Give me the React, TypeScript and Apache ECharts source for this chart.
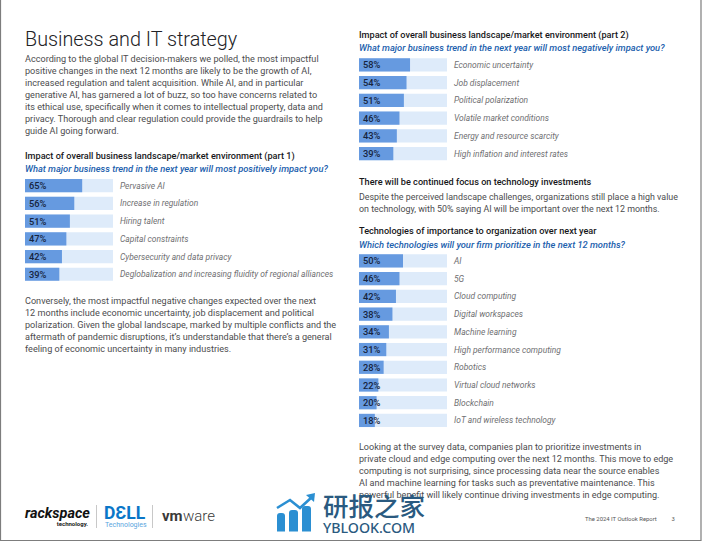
import React, { useEffect, useRef } from "react";
import * as echarts from "echarts";

const part1Categories = ["Pervasive AI", "Increase in regulation", "Hiring talent", "Capital constraints", "Cybersecurity and data privacy", "Deglobalization and increasing fluidity of regional alliances"];
const part1Values = [65, 56, 51, 47, 42, 39];
const part2Categories = ["Economic uncertainty", "Job displacement", "Political polarization", "Volatile market conditions", "Energy and resource scarcity", "High inflation and interest rates"];
const part2Values = [58, 54, 51, 46, 43, 39];
const techCategories = ["AI", "5G", "Cloud computing", "Digital workspaces", "Machine learning", "High performance computing", "Robotics", "Virtual cloud networks", "Blockchain", "IoT and wireless technology"];
const techValues = [50, 46, 42, 38, 34, 31, 28, 22, 20, 18];

const introLines = [
  "According to the global IT decision-makers we polled, the most impactful",
  "positive changes in the next 12 months are likely to be the growth of AI,",
  "increased regulation and talent acquisition. While AI, and in particular",
  "generative AI, has garnered a lot of buzz, so too have concerns related to",
  "its ethical use, specifically when it comes to intellectual property, data and",
  "privacy. Thorough and clear regulation could provide the guardrails to help",
  "guide AI going forward.",
];
const conversLines = [
  "Conversely, the most impactful negative changes expected over the next",
  "12 months include economic uncertainty, job displacement and political",
  "polarization. Given the global landscape, marked by multiple conflicts and the",
  "aftermath of pandemic disruptions, it\u2019s understandable that there\u2019s a general",
  "feeling of economic uncertainty in many industries.",
];
const focusLines = [
  "Despite the perceived landscape challenges, organizations still place a high value",
  "on technology, with 50% saying AI will be important over the next 12 months.",
];
const surveyLines = [
  "Looking at the survey data, companies plan to prioritize investments in",
  "private cloud and edge computing over the next 12 months. This move to edge",
  "computing is not surprising, since processing data near the source enables",
  "AI and machine learning for tasks such as preventative maintenance. This",
  "powerful benefit will likely continue driving investments in edge computing.",
];

const FONT = "Roboto, sans-serif";
const BODY = "#4c4c4e";
const HEAD = "#17171a";
const BLUE = "#2160ad";
const BAR = "#669ae0";
const TRACK = "#deebfa";
const WM = "#2b8fd2";
const ROW = 17.72;

const text = (x: number, y: number, t: string, o: any = {}) => ({
  type: "text",
  x,
  y,
  silent: true,
  style: { text: t, fontFamily: FONT, fontSize: 9.1, fill: BODY, textVerticalAlign: "middle", ...o },
});
const lines = (x: number, y: number, list: string[], pitch: number, o: any = {}) =>
  list.map((t, i) => text(x, y + i * pitch, t, o));
const heading = (x: number, y: number, t: string) => text(x, y, t, { fontSize: 9.15, fontWeight: 500, fill: HEAD });
const question = (x: number, y: number, t: string) =>
  text(x, y, t, { fontSize: 9.3, fontWeight: 500, fontStyle: "italic", fill: BLUE });

const barSet = (idx: number, left: number, top: number, cats: string[], vals: number[]) => ({
  grid: { left, top, width: 88, height: cats.length * ROW },
  xAxis: { gridIndex: idx, type: "value", min: 0, max: 100, show: false },
  yAxis: {
    gridIndex: idx,
    type: "category",
    data: cats,
    inverse: true,
    position: "right",
    axisLine: { show: false },
    axisTick: { show: false },
    axisLabel: { margin: 7, color: "#6f6f72", fontFamily: FONT, fontStyle: "italic", fontSize: 8.45, align: "left", interval: 0, padding: [0, 0, 1.5, 0] },
  },
  series: {
    type: "bar",
    xAxisIndex: idx,
    yAxisIndex: idx,
    data: vals,
    barWidth: 13.2,
    showBackground: true,
    backgroundStyle: { color: TRACK },
    itemStyle: { color: BAR },
    label: {
      show: true,
      position: "insideLeft",
      distance: 4,
      formatter: "{c}%",
      color: "#16243d",
      fontFamily: FONT,
      fontWeight: 500,
      fontSize: 9.3,
    },
  },
});

export default function App() {
  const ref = useRef<HTMLDivElement>(null);
  useEffect(() => {
    const chart = echarts.init(ref.current!, undefined, { renderer: "svg" });
    const sets = [
      barSet(0, 25, 176.8, part1Categories, part1Values),
      barSet(1, 359, 56.1, part2Categories, part2Values),
      barSet(2, 359, 252.1, techCategories, techValues),
    ];
    chart.setOption({
      animation: false,
      backgroundColor: "#ffffff",
      grid: sets.map((s) => s.grid),
      xAxis: sets.map((s) => s.xAxis),
      yAxis: sets.map((s) => s.yAxis),
      series: sets.map((s) => s.series),
      graphic: [
        { type: "rect", silent: true, shape: { x: 0.5, y: -2, width: 700.5, height: 542.5 }, style: { fill: "none", stroke: "#7d7d7d", lineWidth: 1.2 } },
        text(25, 39, "Business and IT strategy", { fontSize: 19.8, fontWeight: 300, fill: "#222226" }),
        ...lines(25, 59, introLines, 11.95),
        heading(25, 155.5, "Impact of overall business landscape/market environment (part 1)"),
        question(25, 168, "What major business trend in the next year will most positively impact you?"),
        ...lines(25, 301, conversLines, 11.95),
        heading(359, 34.5, "Impact of overall business landscape/market environment (part 2)"),
        question(359, 47, "What major business trend in the next year will most negatively impact you?"),
        heading(359, 182, "There will be continued focus on technology investments"),
        ...lines(359, 197, focusLines, 11.95, { fontSize: 8.9 }),
        heading(359, 231, "Technologies of importance to organization over next year"),
        question(359, 244, "Which technologies will your firm prioritize in the next 12 months?"),
        ...lines(359, 447, surveyLines, 12, { fontSize: 9.05 }),
        // partner logos
        text(25, 513.5, "rackspace", { fontSize: 14.5, fontWeight: 700, fontStyle: "italic", fill: "#111" }),
        text(88, 523.5, "technology.", { fontSize: 6, fontWeight: 700, fill: "#222", textAlign: "right" }),
        { type: "line", silent: true, shape: { x1: 96.5, y1: 505, x2: 96.5, y2: 528 }, style: { stroke: "#c8c8c8", lineWidth: 1 } },
        text(104, 512.5, "D\u0190LL", { fontSize: 17.5, fontWeight: 700, fill: "#0a76c8" }),
        text(105, 524.5, "Technologies", { fontSize: 7, fill: "#5aa5de" }),
        { type: "line", silent: true, shape: { x1: 152.5, y1: 505, x2: 152.5, y2: 528 }, style: { stroke: "#c8c8c8", lineWidth: 1 } },
        text(162, 516, "vm", { fontSize: 15, fontWeight: 700, fill: "#3a3a3a" }),
        text(183, 516, "ware", { fontSize: 15, fontWeight: 300, fill: "#3a3a3a" }),
        text(585, 519, "The 2024 IT Outlook Report", { fontSize: 5.9, fill: "#555" }),
        text(671.5, 519, "3", { fontSize: 5.9, fill: "#555" }),
        // watermark
        { type: "rect", silent: true, shape: { x: 277, y: 513, width: 8, height: 18.5, r: [3, 3, 0, 0] }, style: { fill: WM } },
        { type: "rect", silent: true, shape: { x: 289, y: 510, width: 9, height: 21.5, r: [3, 3, 0, 0] }, style: { fill: WM } },
        { type: "rect", silent: true, shape: { x: 302, y: 506, width: 9, height: 25.5, r: [3, 3, 0, 0] }, style: { fill: WM } },
        { type: "polyline", silent: true, shape: { points: [[277, 508], [290, 500], [300, 508], [312, 497]] }, style: { fill: "none", stroke: WM, lineWidth: 2.6 } },
        { type: "polygon", silent: true, shape: { points: [[306, 495], [315, 493], [314, 502]] }, style: { fill: WM } },
        text(323, 504, "\u7814\u62a5\u4e4b\u5bb6", { fontFamily: "'Noto Sans CJK SC'", fontSize: 25.5, fontWeight: 500, fill: "#2a5a80" }),
        text(323, 527, "YBLOOK.COM", { fontFamily: "'Noto Sans', sans-serif", fontSize: 14.2, fontWeight: 500, fill: "#2a5a80" }),
      ],
    });
    return () => chart.dispose();
  }, []);
  return <div ref={ref} style={{ position: "absolute", left: 0, top: 0, width: 702, height: 542 }} />;
}
